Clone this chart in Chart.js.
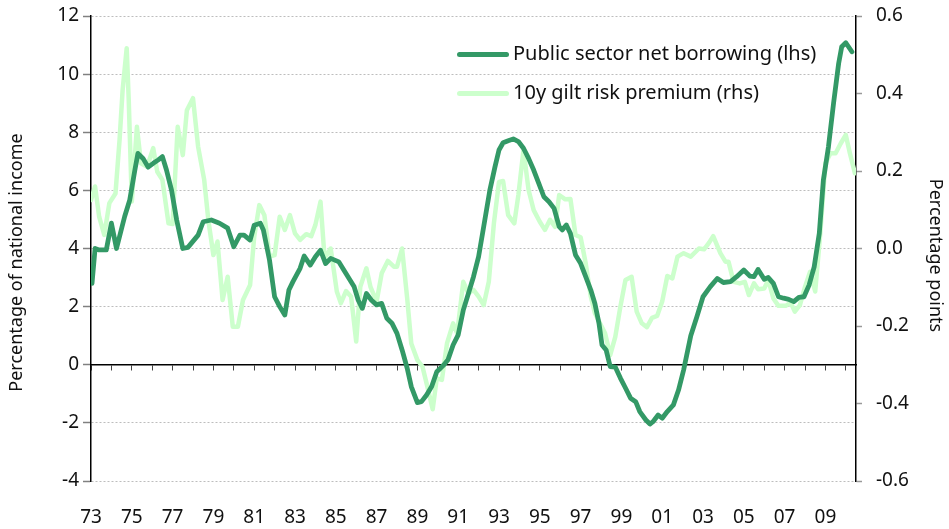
<!DOCTYPE html>
<html>
<head>
<meta charset="utf-8">
<script src="https://cdn.jsdelivr.net/npm/chart.js@4/dist/chart.umd.min.js"></script>
<style>
  html, body { margin: 0; padding: 0; background: #fff; }
  #wrap { position: relative; width: 949px; height: 529px; }
  #legend { position: absolute; left: 0; top: 0; width: 949px; height: 0; font-family: "Noto Sans", sans-serif; font-size: 20px; color: #111; }
  .sw { position: absolute; width: 52px; height: 5px; border-radius: 3px; }
  .lt { position: absolute; line-height: 24px; white-space: nowrap; }
</style>
</head>
<body>
<div id="wrap">
  <canvas id="c" width="949" height="529"></canvas>
  <div id="legend"></div>
</div>
<script>
// ---- data ----
const seriesNames = ["Public sector net borrowing (lhs)", "10y gilt risk premium (rhs)"];
const psnbYears = [1973.05,1973.2,1973.4,1973.75,1974.0,1974.25,1974.65,1974.9,1975.15,1975.3,1975.55,1975.8,1976.05,1976.3,1976.5,1976.7,1976.95,1977.2,1977.5,1977.75,1978.25,1978.5,1978.9,1979.3,1979.7,1980.0,1980.3,1980.5,1980.8,1981.0,1981.3,1981.45,1981.75,1982.0,1982.25,1982.5,1982.7,1982.9,1983.25,1983.45,1983.75,1984.0,1984.25,1984.5,1984.75,1985.15,1985.4,1985.65,1985.9,1986.1,1986.3,1986.5,1986.75,1987.0,1987.25,1987.5,1987.75,1988.0,1988.25,1988.5,1988.7,1989.0,1989.2,1989.45,1989.7,1989.95,1990.3,1990.5,1990.75,1991.0,1991.25,1991.5,1991.75,1992.0,1992.25,1992.55,1992.8,1993.0,1993.2,1993.45,1993.7,1993.95,1994.2,1994.45,1994.7,1994.95,1995.2,1995.45,1995.7,1995.95,1996.1,1996.3,1996.5,1996.75,1997.0,1997.25,1997.5,1997.7,1997.9,1998.05,1998.25,1998.45,1998.7,1998.95,1999.2,1999.45,1999.7,1999.9,2000.2,2000.4,2000.55,2000.8,2001.0,2001.25,2001.55,2001.8,2002.05,2002.4,2002.7,2003.0,2003.35,2003.7,2004.0,2004.35,2004.65,2005.0,2005.3,2005.5,2005.7,2006.0,2006.2,2006.45,2006.7,2006.95,2007.2,2007.45,2007.7,2007.95,2008.2,2008.45,2008.7,2008.9,2009.15,2009.4,2009.65,2009.8,2010.0,2010.3];
const psnbValues = [2.8,4.0,3.95,3.95,4.87,4.0,5.1,5.67,6.7,7.27,7.1,6.8,6.93,7.05,7.16,6.7,6.0,4.98,4.0,4.04,4.46,4.92,4.98,4.87,4.7,4.06,4.46,4.46,4.29,4.8,4.87,4.64,3.6,2.34,2.0,1.71,2.57,2.86,3.32,3.74,3.43,3.72,3.94,3.48,3.66,3.54,3.25,2.97,2.68,2.22,1.94,2.45,2.22,2.06,2.11,1.6,1.43,1.08,0.51,-0.12,-0.75,-1.3,-1.27,-1.04,-0.75,-0.24,0.0,0.17,0.68,1.03,1.88,2.45,3.03,3.72,4.75,6.0,6.8,7.39,7.64,7.71,7.77,7.68,7.45,7.1,6.7,6.24,5.78,5.61,5.38,4.75,4.64,4.81,4.52,3.78,3.49,3.03,2.57,2.11,1.43,0.68,0.51,-0.06,-0.08,-0.46,-0.8,-1.15,-1.27,-1.61,-1.9,-2.04,-1.96,-1.73,-1.84,-1.61,-1.38,-0.87,-0.18,1.0,1.65,2.34,2.68,2.97,2.83,2.86,3.03,3.26,3.05,3.03,3.28,2.94,3.0,2.8,2.34,2.29,2.25,2.17,2.32,2.34,2.74,3.37,4.52,6.35,7.5,9.0,10.37,10.94,11.08,10.77];
const premYears = [1973.0,1973.2,1973.4,1973.65,1973.9,1974.2,1974.4,1974.55,1974.75,1974.85,1975.0,1975.25,1975.45,1975.75,1976.05,1976.25,1976.5,1976.8,1977.0,1977.25,1977.5,1977.7,1978.0,1978.25,1978.55,1978.75,1979.0,1979.2,1979.45,1979.7,1979.95,1980.2,1980.45,1980.8,1981.0,1981.25,1981.5,1981.75,1982.0,1982.25,1982.5,1982.75,1983.0,1983.25,1983.55,1983.8,1984.0,1984.25,1984.45,1984.75,1984.9,1985.05,1985.25,1985.5,1985.75,1986.0,1986.2,1986.5,1986.7,1987.0,1987.25,1987.55,1987.85,1988.0,1988.25,1988.5,1988.7,1989.0,1989.25,1989.45,1989.75,1989.95,1990.2,1990.45,1990.75,1990.95,1991.25,1991.5,1991.75,1992.0,1992.25,1992.5,1992.75,1993.0,1993.2,1993.45,1993.75,1993.95,1994.2,1994.45,1994.7,1995.0,1995.25,1995.5,1995.75,1995.95,1996.25,1996.5,1996.75,1997.0,1997.25,1997.5,1997.7,1997.95,1998.2,1998.45,1998.7,1998.95,1999.2,1999.5,1999.75,2000.0,2000.25,2000.5,2000.75,2001.0,2001.25,2001.5,2001.75,2002.05,2002.4,2002.8,2003.05,2003.3,2003.5,2003.85,2004.1,2004.25,2004.5,2004.8,2005.05,2005.25,2005.5,2005.7,2006.0,2006.2,2006.45,2006.7,2007.05,2007.3,2007.5,2007.75,2008.0,2008.25,2008.5,2008.75,2009.0,2009.25,2009.5,2009.75,2010.0,2010.2,2010.45];
const premValues = [0.125,0.16,0.082,0.035,0.117,0.142,0.28,0.409,0.517,0.383,0.121,0.314,0.22,0.211,0.259,0.198,0.177,0.065,0.063,0.314,0.241,0.357,0.388,0.263,0.177,0.074,-0.017,0.018,-0.133,-0.073,-0.202,-0.202,-0.133,-0.094,0.03,0.112,0.086,-0.021,-0.017,0.082,0.048,0.086,0.039,0.022,0.037,0.032,0.061,0.121,-0.025,0.0,-0.055,-0.111,-0.141,-0.11,-0.124,-0.24,-0.099,-0.051,-0.099,-0.137,-0.064,-0.032,-0.047,-0.047,0.0,-0.129,-0.245,-0.288,-0.305,-0.348,-0.415,-0.335,-0.339,-0.245,-0.193,-0.219,-0.086,-0.116,-0.107,-0.124,-0.146,-0.086,0.065,0.172,0.174,0.086,0.065,0.138,0.254,0.151,0.099,0.069,0.048,0.074,0.056,0.138,0.127,0.128,0.035,0.029,-0.038,-0.124,-0.167,-0.193,-0.219,-0.275,-0.228,-0.15,-0.081,-0.073,-0.163,-0.193,-0.203,-0.179,-0.174,-0.137,-0.071,-0.077,-0.021,-0.012,-0.021,0.0,-0.002,0.015,0.032,-0.012,-0.034,-0.034,-0.086,-0.09,-0.086,-0.12,-0.09,-0.105,-0.103,-0.081,-0.129,-0.148,-0.148,-0.14,-0.163,-0.146,-0.099,-0.06,-0.111,0.039,0.22,0.246,0.246,0.271,0.293,0.246,0.194];
const tickYears = [1973,1975,1977,1979,1981,1983,1985,1987,1989,1991,1993,1995,1997,1999,2001,2003,2005,2007,2009];
const tickLabels = ["73","75","77","79","81","83","85","87","89","91","93","95","97","99","01","03","05","07","09"];
const minorYears = [1973,1974,1975,1976,1977,1978,1979,1980,1981,1982,1983,1984,1985,1986,1987,1988,1989,1990,1991,1992,1993,1994,1995,1996,1997,1998,1999,2000,2001,2002,2003,2004,2005,2006,2007,2008,2009,2010];
const xMin = 1973, xMax = 2010.5;
const leftTitle = "Percentage of national income";
const rightTitle = "Percentage points";

// ---- styles ----
const darkGreen = "#339966";
const lightGreen = "#ccffcc";
const FONT = "'Noto Sans', sans-serif";
const TICK_SIZE = 19;

const toPts = (xs, ys) => xs.map((x, i) => ({ x: x, y: ys[i] }));
const noPad = s => { s.paddingTop = 0; s.paddingBottom = 0; };

const chart = new Chart(document.getElementById("c"), {
  type: "line",
  data: {
    datasets: [
      { label: seriesNames[0], data: toPts(psnbYears, psnbValues), xAxisID: "x", yAxisID: "y",
        borderColor: darkGreen, backgroundColor: darkGreen, borderWidth: 4.8, pointRadius: 0, tension: 0,
        borderJoinStyle: "round", borderCapStyle: "round" },
      { label: seriesNames[1], data: toPts(premYears, premValues), xAxisID: "x", yAxisID: "y1",
        borderColor: lightGreen, backgroundColor: lightGreen, borderWidth: 4.5, pointRadius: 0, tension: 0,
        borderJoinStyle: "round", borderCapStyle: "round" }
    ]
  },
  options: {
    responsive: false,
    animation: false,
    layout: { padding: { top: 16, left: 0, right: 0, bottom: 0 } },
    plugins: { legend: { display: false }, tooltip: { enabled: false } },
    scales: {
      x: {
        type: "linear", position: "bottom", min: xMin, max: xMax,
        afterBuildTicks: s => { s.ticks = tickYears.map(v => ({ value: v })); },
        afterFit: s => { s.height = 48; s.paddingLeft = 0; s.paddingRight = 0; },
        ticks: { callback: (v) => tickLabels[tickYears.indexOf(v)], color: "#111", font: { family: FONT, size: TICK_SIZE }, padding: 25, maxRotation: 0, autoSkip: false },
        grid: { display: false, drawTicks: false },
        border: { display: false }
      },
      x0: {
        type: "linear", position: { y: 0 }, min: xMin, max: xMax,
        afterBuildTicks: s => { s.ticks = minorYears.map(v => ({ value: v })); },
        afterFit: s => { s.paddingLeft = 0; s.paddingRight = 0; },
        ticks: { display: false },
        grid: { drawOnChartArea: false, drawTicks: true, tickLength: 5, tickColor: "#444", tickWidth: 1 },
        border: { display: true, color: "#000", width: 1.5 }
      },
      y: {
        position: "left", min: -4, max: 12,
        afterFit: s => { s.width = 91; noPad(s); },
        ticks: { stepSize: 2, color: "#111", font: { family: FONT, size: TICK_SIZE }, padding: 4 },
        grid: { color: "#bdbdbd", lineWidth: 1, tickLength: 8, tickColor: "#808080", tickWidth: 1.5, drawTicks: true },
        border: { display: true, color: "#000", width: 1.5, dash: [2, 2] },
        title: { display: true, text: leftTitle + "      ", color: "#111", font: { family: FONT, size: 18 }, padding: { top: 6, bottom: 0 } }
      },
      y1: {
        position: "right", min: -0.6, max: 0.6,
        afterFit: s => { s.width = 93; noPad(s); },
        ticks: { stepSize: 0.2, color: "#111", font: { family: FONT, size: TICK_SIZE }, padding: 14,
          callback: v => (Math.abs(v) < 1e-9 ? 0 : v).toFixed(1) },
        grid: { drawOnChartArea: false, tickLength: 6, tickColor: "#999", tickWidth: 1.5, drawTicks: true },
        border: { display: true, color: "#000", width: 1.5 },
        title: { display: true, text: "   " + rightTitle, color: "#111", font: { family: FONT, size: 18 }, padding: { top: 3, bottom: 0 } }
      }
    }
  }
});

// legend as real text, colours taken from the datasets
const leg = document.getElementById("legend");
const rowCentres = [54, 93];
chart.data.datasets.forEach((ds, i) => {
  const sw = document.createElement("div");
  sw.className = "sw";
  sw.style.background = ds.borderColor;
  sw.style.left = "457px";
  sw.style.top = (rowCentres[i] - 2.5) + "px";
  const t = document.createElement("div");
  t.className = "lt";
  t.textContent = ds.label;
  t.style.left = "513px";
  t.style.top = (rowCentres[i] - 13) + "px";
  leg.appendChild(sw);
  leg.appendChild(t);
});
</script>
</body>
</html>
